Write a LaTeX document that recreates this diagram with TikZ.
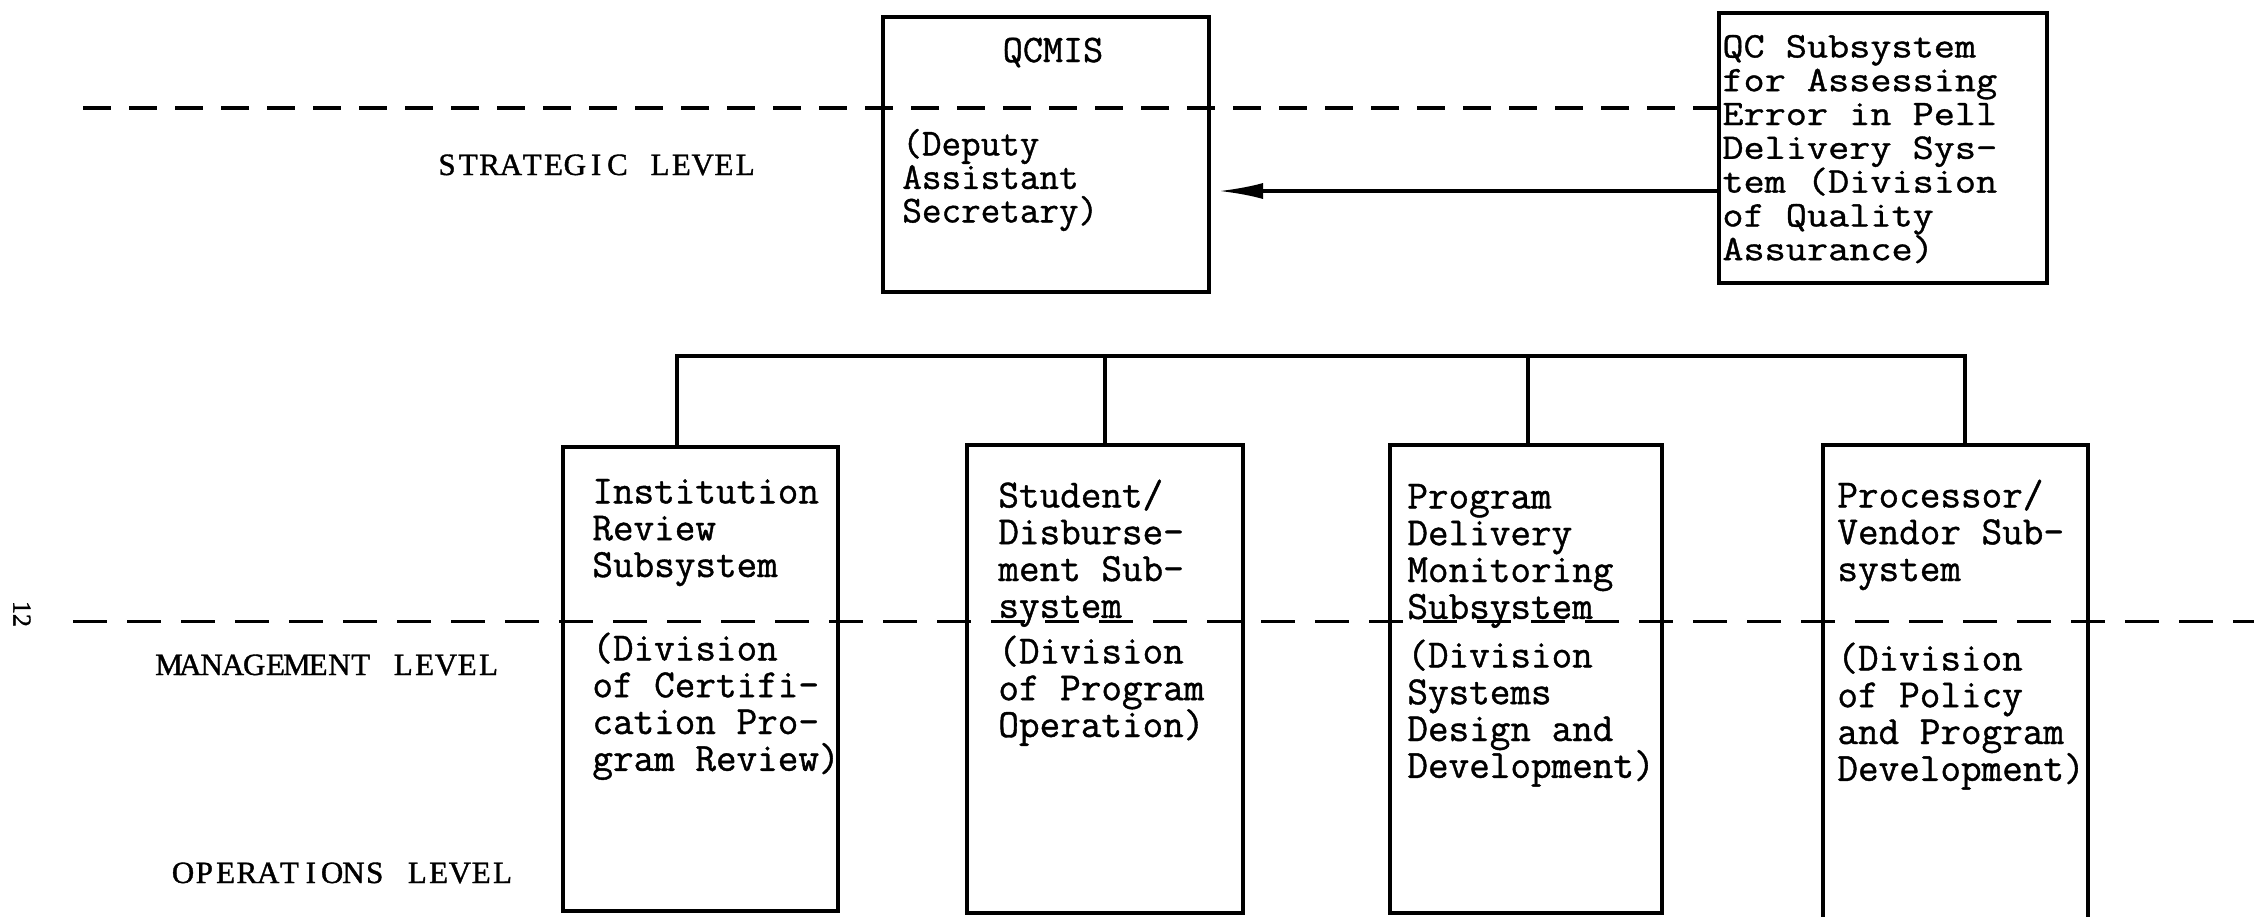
\documentclass[tikz,border=0pt]{standalone}
\usepackage{fontspec}
\newfontfamily\tw[FakeBold=1]{Latin Modern Mono}
\newfontfamily\twwide[FakeBold=1,FakeStretch=1.14]{Latin Modern Mono}
\newfontfamily\lvl[FakeBold=1.2]{Liberation Serif}
\usetikzlibrary{arrows.meta,calc}
\newcommand\mystrut{\rule{0pt}{16pt}}
% fixed-pitch setting of a word: every letter in a cell of equal width
\makeatletter
\newcommand\pitched[1]{\@tfor\pch:=#1\do{\makebox[10.65pt]{\pch}}}
\makeatother
\newcommand\pitchgap{\hspace*{10.65pt}}
\tikzset{
  box/.style={draw, line width=2pt, rectangle, inner sep=0pt},
  txt/.style={anchor=north west, inner sep=0pt, align=left},
  bodyfont/.style={font={\tw\fontsize{20pt}{18.4pt}\selectfont\lineskiplimit=-100pt}},
  level/.style={anchor=base west, inner sep=0pt, font={\lvl\fontsize{15.5pt}{17pt}\selectfont}},
  stratline/.style={line width=1.6pt, dash pattern=on 14pt off 9pt},
  mgmtline/.style={line width=1.5pt, dash pattern=on 17pt off 10pt},
  conn/.style={line width=2pt},
  arr/.style={line width=1.6pt, -{Latex[length=22pt,width=8pt]}, shorten >=4pt}
}
\begin{document}
\begin{tikzpicture}[x=0.5pt,y=-0.5pt]
\useasboundingbox (0,0) rectangle (2254,916);

% boxes
\node[box, minimum width=163pt, minimum height=137.5pt] (qcmis) at (1046,154.5) {};
\node[box, minimum width=164pt, minimum height=135pt] (qc) at (1883,148) {};
\node[box, minimum width=137.5pt, minimum height=232pt] (b1) at (700.5,679) {};
\node[box, minimum width=138pt, minimum height=234pt] (b2) at (1105,679) {};
\node[box, minimum width=136pt, minimum height=234pt] (b3) at (1526,679) {};
\node[box, minimum width=132.5pt, minimum height=240pt] (b4) at (1955.5,685) {};

% level lines
\coordinate (sl) at (83,108);
\draw[stratline] (sl) -- (sl -| qc.west);
\coordinate (ml) at (73,621);
\coordinate (mr) at (2254,621);
\draw[mgmtline] (ml) -- (mr);

% level labels
\node[level] (strat) at (436,175) {\pitched{STRATEGIC}\pitchgap\pitched{LEVEL}};
\node[level] (mgmt) at (158,675) {\pitched{MANAGEMENT}\pitchgap\pitched{LEVEL}};
\node[level] (ops) at (172,883) {\pitched{OPERATIONS}\pitchgap\pitched{LEVEL}};
\node[rotate=-90, inner sep=0pt, font={\lvl\fontsize{13pt}{14pt}\selectfont}] (pg) at (22,614) {12};

% top boxes text
\node[anchor=base, inner sep=0pt, font={\tw\fontsize{19.5pt}{18pt}\selectfont}] (qcmisT) at (1053,62) {QCMIS};
\node[txt, font={\tw\fontsize{19pt}{16.75pt}\selectfont\lineskiplimit=-100pt}] (qcmisB) at (902,123)
  {\mystrut(Deputy\\Assistant\\Secretary)};
\node[txt, font={\twwide\fontsize{18pt}{16.9pt}\selectfont\lineskiplimit=-100pt}] (qcT) at (1722,25)
  {\mystrut QC Subsystem\\for Assessing\\Error in Pell\\Delivery Sys-\\tem (Division\\of Quality\\Assurance)};

% arrow
\coordinate (arrowY) at (0,191);
\draw[arr] (qc.west |- arrowY) -- (qcmis.east |- arrowY);

% bus to the four subsystems
\coordinate (bus) at (0,356);
\coordinate (t1) at ($(b1.north west)+(116,0)$);
\coordinate (t2) at (b2.north);
\coordinate (t3) at ($(b3.north)+(2,0)$);
\coordinate (t4) at ($(b4.north west)+(144,0)$);
\draw[conn] (t1) -- (t1 |- bus) -- (t4 |- bus) -- (t4);
\draw[conn] (t2) -- (t2 |- bus);
\draw[conn] (t3) -- (t3 |- bus);

% subsystem texts
\node[txt, bodyfont] (b1u) at (592,471) {\mystrut Institution\\Review\\Subsystem};
\node[txt, bodyfont] (b1l) at (592,628) {\mystrut(Division\\of Certifi-\\cation Pro-\\gram Review)};
\node[txt, bodyfont] (b2u) at (998,475) {\mystrut Student/\\Disburse-\\ment Sub-\\system};
\node[txt, bodyfont] (b2l) at (998,631) {\mystrut(Division\\of Program\\Operation)};
\node[txt, bodyfont] (b3u) at (1407,476) {\mystrut Program\\Delivery\\Monitoring\\Subsystem};
\node[txt, bodyfont] (b3l) at (1407,635) {\mystrut(Division\\Systems\\Design and\\Development)};
\node[txt, bodyfont] (b4u) at (1837,475) {\mystrut Processor/\\Vendor Sub-\\system};
\node[txt, bodyfont] (b4l) at (1837,638) {\mystrut(Division\\of Policy\\and Program\\Development)};
\end{tikzpicture}
\end{document}
